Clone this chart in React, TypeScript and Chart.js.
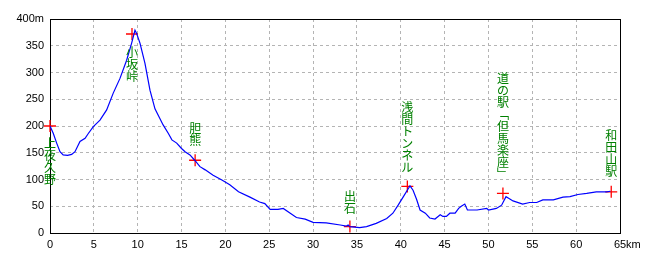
import React, { useEffect, useRef } from "react";
import { Chart, registerables } from "chart.js";
Chart.register(...registerables);

// elevation profile (distance km / elevation m)
const profileKm = [
  0, 0.38, 0.76, 1.14, 1.5, 2.0, 2.47, 2.85, 3.42, 4.0, 4.37, 4.94, 5.32, 5.7, 6.46, 7.2, 7.98, 8.74,
  9.31, 9.69, 9.88, 10.26, 10.83, 11.4, 11.97, 12.5, 12.9, 13.5, 13.9, 14.45, 15.0, 15.4, 15.96, 16.5,
  17.1, 17.7, 18.6, 19.6, 20.5, 21.5, 22.8, 23.9, 24.5, 25.1, 26.0, 26.6, 27.4, 28.1, 29.1, 30.0,
  31.5, 33.1, 33.8, 34.0, 34.2, 35.3, 36.1, 37.2, 38.4, 39.1, 39.7, 40.3, 40.9, 41.05, 41.4, 41.8,
  42.2, 42.8, 43.3, 43.9, 44.5, 44.8, 45.2, 45.6, 46.2, 46.6, 46.9, 47.3, 47.6, 48.7, 49.8, 50.0,
  50.9, 51.5, 52.0, 52.3, 52.8, 53.9, 54.7, 55.5, 56.2, 57.4, 58.5, 59.3, 60.2, 61.2, 62.3, 63.5, 63.9,
];
const profileElev = [
  200, 186, 168, 152, 146, 145, 147, 152, 171, 177, 186, 199, 205, 211, 230, 261, 289, 323,
  355, 379, 373, 355, 317, 267, 232, 215, 202, 186, 174, 168, 158, 152, 146, 136,
  124, 118, 108, 99, 90, 77, 67, 58, 55, 44, 44, 46, 37, 29, 26, 20,
  19, 15, 13, 15, 12, 10, 12, 18, 27, 37, 52, 68, 84, 88, 80, 63,
  43, 37, 28, 26, 34, 31, 31, 37, 37, 46, 50, 54, 43, 43, 46, 43,
  46, 52, 68, 65, 60, 54, 57, 57, 62, 62, 67, 68, 72, 74, 77, 77, 78,
];

// named points
const stationNames = ["上夜久野", "小坂峠", "胆熊", "出石", "浅間トンネル", "道の駅「但馬楽座」", "和田山駅"];
const stationKm = [0, 9.35, 16.55, 34.2, 40.75, 51.65, 64.0];
const stationElev = [200, 372, 136, 12, 87, 74, 77];
const labelTopElev = [178, 348, 206, 80, 245, 301, 193];

const xTickValues = [0, 5, 10, 15, 20, 25, 30, 35, 40, 45, 50, 55, 60, 65];
const yTickValues = [0, 50, 100, 150, 200, 250, 300, 350, 400];
const xUnit = "km";
const yUnit = "m";

const TICK_FONT = { family: "'Liberation Sans', Arial, sans-serif", size: 11 };

const verticalForm = (ch: string) => (ch === "「" ? "﹁" : ch === "」" ? "﹂" : ch);

const overlayPlugin = {
  id: "overlay",
  beforeDatasetsDraw(chart: any) {
    const { ctx, chartArea } = chart;
    ctx.save();
    ctx.strokeStyle = "#000";
    ctx.lineWidth = 1;
    ctx.strokeRect(
      Math.round(chartArea.left) + 0.5,
      Math.round(chartArea.top) + 0.5,
      Math.round(chartArea.right - chartArea.left),
      Math.round(chartArea.bottom - chartArea.top)
    );
    ctx.restore();
  },
  afterDatasetsDraw(chart: any) {
    const { ctx, scales } = chart;
    const x = scales.x;
    const y = scales.y;
    ctx.save();
    ctx.fillStyle = "#008000";
    ctx.font = "12px 'Noto Sans CJK JP'";
    ctx.textAlign = "center";
    ctx.textBaseline = "top";
    stationNames.forEach((name, i) => {
      const px = x.getPixelForValue(stationKm[i]);
      const top = y.getPixelForValue(labelTopElev[i]);
      Array.from(name).forEach((ch, j) => {
        ctx.fillText(verticalForm(ch), px, top + j * 12);
      });
    });
    ctx.restore();
  },
  afterDraw(chart: any) {
    const { ctx, scales } = chart;
    const x = scales.x;
    ctx.save();
    ctx.fillStyle = "#000";
    ctx.font = `${TICK_FONT.size}px ${TICK_FONT.family}`;
    const last = xTickValues[xTickValues.length - 1];
    const w = ctx.measureText(String(last)).width;
    const px = x.getPixelForValue(last) + w / 2;
    ctx.textAlign = "left";
    ctx.textBaseline = "middle";
    ctx.fillText(xUnit, px, 245);
    ctx.restore();
  },
};

export default function App() {
  const ref = useRef<HTMLCanvasElement | null>(null);
  useEffect(() => {
    const canvas = ref.current!;
    const chart = new Chart(canvas, {
      type: "line",
      data: {
        datasets: [
          {
            data: profileKm.map((k, i) => ({ x: k, y: profileElev[i] })),
            borderColor: "#0000ff",
            borderWidth: 1.2,
            pointRadius: 0,
            tension: 0,
            fill: false,
          },
          {
            data: stationKm.map((k, i) => ({ x: k, y: stationElev[i] })),
            showLine: false,
            pointStyle: "cross",
            pointRadius: 6,
            borderColor: "#ff0000",
            backgroundColor: "#ff0000",
            borderWidth: 1.3,
            clip: false,
          },
        ],
      },
      options: {
        animation: false,
        responsive: false,
        maintainAspectRatio: false,
        layout: { padding: { top: 19, right: 40, left: 0, bottom: 0 } },
        plugins: { legend: { display: false }, tooltip: { enabled: false } },
        scales: {
          x: {
            type: "linear",
            min: 0,
            max: 65,
            afterFit: (s: any) => { s.height = 31; },
            afterBuildTicks: (s: any) => { s.ticks = xTickValues.map((v) => ({ value: v })); },
            ticks: {
              color: "#000",
              font: TICK_FONT,
              padding: 5,
              maxRotation: 0,
              autoSkip: false,
              callback: (v: any) => String(v),
            },
            grid: { color: "#b4b4b4", drawTicks: false, lineWidth: 1 },
            border: { display: false, dash: [3, 3] },
          },
          y: {
            type: "linear",
            min: 0,
            max: 400,
            afterFit: (s: any) => { s.width = 50; },
            afterBuildTicks: (s: any) => { s.ticks = yTickValues.map((v) => ({ value: v })); },
            ticks: {
              color: "#000",
              font: TICK_FONT,
              padding: 6,
              autoSkip: false,
              callback: (v: any) => (v === 400 ? `${v}${yUnit}` : String(v)),
            },
            grid: { color: "#b4b4b4", drawTicks: false, lineWidth: 1 },
            border: { display: false, dash: [3, 3] },
          },
        },
      },
      plugins: [overlayPlugin],
    } as any);
    return () => chart.destroy();
  }, []);
  return (
    <div style={{ position: "fixed", left: 0, top: 0, width: 660, height: 264, background: "#fff" }}>
      <canvas ref={ref} width={660} height={264} style={{ width: 660, height: 264, display: "block" }} />
    </div>
  );
}
